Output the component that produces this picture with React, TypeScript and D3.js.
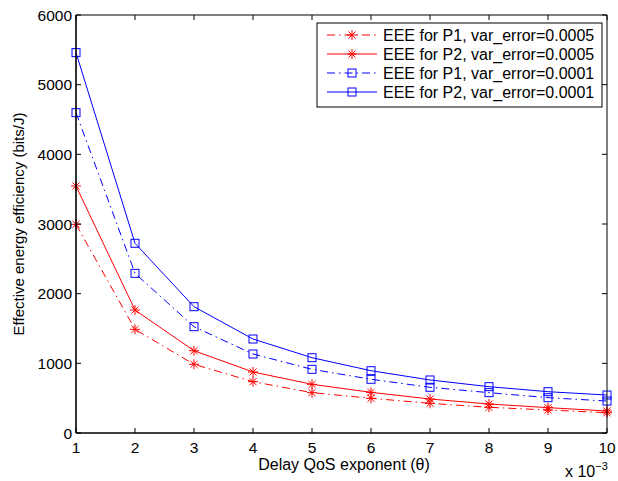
import React from "react";
import * as d3 from "d3";

const thetas = [1, 2, 3, 4, 5, 6, 7, 8, 9, 10];
const eeeP1v5 = [2995, 1488, 986, 737, 579, 498, 426, 369, 330, 291];
const eeeP2v5 = [3545, 1765, 1181, 876, 699, 584, 488, 416, 364, 316];
const eeeP1v1 = [4598, 2292, 1526, 1134, 914, 771, 656, 579, 507, 459];
const eeeP2v1 = [5460, 2723, 1813, 1349, 1081, 894, 761, 665, 593, 545];
const seriesLabels = [
  "EEE for P1, var_error=0.0005",
  "EEE for P2, var_error=0.0005",
  "EEE for P1, var_error=0.0001",
  "EEE for P2, var_error=0.0001",
];
const yTicks = [0, 1000, 2000, 3000, 4000, 5000, 6000];
const xTicks = [1, 2, 3, 4, 5, 6, 7, 8, 9, 10];

const DASHDOT = "8,4,1.5,4";
const series = [
  { label: seriesLabels[0], values: eeeP1v5, color: "#ff0000", dash: DASHDOT, marker: "star" },
  { label: seriesLabels[1], values: eeeP2v5, color: "#ff0000", dash: null, marker: "star" },
  { label: seriesLabels[2], values: eeeP1v1, color: "#0000ff", dash: DASHDOT, marker: "square" },
  { label: seriesLabels[3], values: eeeP2v1, color: "#0000ff", dash: null, marker: "square" },
];

const W = 618, H = 481;
const L = 76, R = 607, T = 15, B = 433;
const font = "Liberation Sans, Arial, Helvetica, sans-serif";

function Marker({ x, y, type, color }: { x: number; y: number; type: string; color: string }) {
  if (type === "square") {
    const s = 8;
    return <rect x={x - s / 2} y={y - s / 2} width={s} height={s} fill="none" stroke={color} strokeWidth={1} />;
  }
  const r = 5;
  const d = r * 0.707;
  return (
    <g stroke={color} strokeWidth={1}>
      <line x1={x - r} y1={y} x2={x + r} y2={y} />
      <line x1={x} y1={y - r} x2={x} y2={y + r} />
      <line x1={x - d} y1={y - d} x2={x + d} y2={y + d} />
      <line x1={x - d} y1={y + d} x2={x + d} y2={y - d} />
    </g>
  );
}

export default function App() {
  const x = d3.scaleLinear().domain([1, 10]).range([L, R]);
  const y = d3.scaleLinear().domain([0, 6000]).range([B, T]);
  const line = d3.line<number>().x((_, i) => x(thetas[i])).y((v) => y(v));
  const tl = 5;
  const legX = 317, legY = 23, legW = 285, legH = 84;
  const rowY = [35, 54, 73, 92];
  return (
    <svg width={W} height={H} style={{ position: "absolute", left: 0, top: 0, background: "#fff" }} fontFamily={font}>
      <rect x={0} y={0} width={W} height={H} fill="#fff" />
      {series.map((s, k) => (
        <g key={k}>
          <path d={line(s.values) || ""} fill="none" stroke={s.color} strokeWidth={1} strokeDasharray={s.dash || undefined} />
          {s.values.map((v, i) => (
            <Marker key={i} x={x(thetas[i])} y={y(v)} type={s.marker} color={s.color} />
          ))}
        </g>
      ))}
      {/* axes box */}
      <line x1={L} y1={T} x2={R} y2={T} stroke="#000" strokeWidth={1} />
      <line x1={R} y1={T} x2={R} y2={B} stroke="#000" strokeWidth={1} />
      <line x1={L} y1={T} x2={L} y2={B} stroke="#000" strokeWidth={1.6} />
      <line x1={L} y1={B} x2={R} y2={B} stroke="#000" strokeWidth={1.6} />
      {xTicks.map((t) => (
        <g key={"x" + t}>
          <line x1={x(t)} y1={B} x2={x(t)} y2={B - tl} stroke="#000" />
          <line x1={x(t)} y1={T} x2={x(t)} y2={T + tl} stroke="#000" />
          <text x={x(t)} y={B + 20} textAnchor="middle" fontSize={15.5} fill="#000">{t}</text>
        </g>
      ))}
      {yTicks.map((t) => (
        <g key={"y" + t}>
          <line x1={L} y1={y(t)} x2={L + tl} y2={y(t)} stroke="#000" />
          <line x1={R} y1={y(t)} x2={R - tl} y2={y(t)} stroke="#000" />
          <text x={L - 4} y={y(t) + 5.5} textAnchor="end" fontSize={15.5} fill="#000">{t}</text>
        </g>
      ))}
      <text x={344} y={470} textAnchor="middle" fontSize={16} fill="#000">Delay QoS exponent (θ)</text>
      <text transform={`translate(24,${(T + B) / 2}) rotate(-90)`} textAnchor="middle" fontSize={15} fill="#000">
        Effective energy efficiency (bits/J)
      </text>
      <text x={565} y={477} fontSize={16} fill="#000">
        x 10<tspan dy={-7} fontSize={11}>−3</tspan>
      </text>
      {/* legend */}
      <rect x={legX} y={legY} width={legW} height={legH} fill="#fff" stroke="#000" strokeWidth={1} />
      {series.map((s, k) => (
        <g key={"l" + k}>
          <line x1={327} y1={rowY[k]} x2={377} y2={rowY[k]} stroke={s.color} strokeWidth={1} strokeDasharray={s.dash || undefined} />
          <Marker x={352} y={rowY[k]} type={s.marker} color={s.color} />
          <text x={383} y={rowY[k] + 5.5} fontSize={16} fill="#000">{s.label}</text>
        </g>
      ))}
    </svg>
  );
}
